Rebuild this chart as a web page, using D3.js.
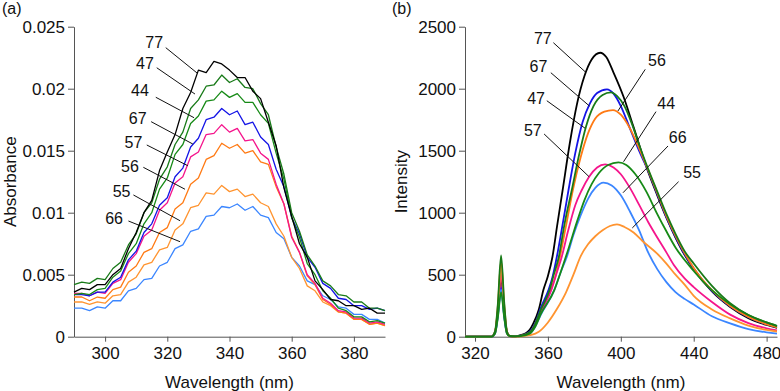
<!DOCTYPE html>
<html>
<head>
<meta charset="utf8">
<script src="https://d3js.org/d3.v7.min.js"></script>
<style>
  body { margin: 0; background: #fff; }
  text { font-family: "Liberation Sans", Arial, Helvetica, sans-serif; fill: #111; }
  .axis path, .axis line { stroke: #555; }
  .axis text { font-size: 17px; }
</style>
</head>
<body>
<svg id="chart" width="780" height="391"></svg>
<script>
// ---- panel (a): absorbance, sampled every 2.5 nm ----
var wlA = [290, 292.5, 295, 297.5, 300, 302.5, 305, 307.5, 310, 312.5, 315, 317.5, 320, 322.5, 325, 327.5,
  330, 332.5, 335, 337.5, 340, 342.5, 345, 347.5, 350, 352.5, 355, 357.5, 360, 362.5, 365, 367.5,
  370, 372.5, 375, 377.5, 380, 382.5, 385, 387.5, 390];

var abs77 = [.0036, .0039, .0038, .0042, .0042, .0050, .0055, .0071, .0084, .0100, .0110, .0134, .0149, .0163, .0184, .0197,
  .0215, .0213, .0222, .0220, .0215, .0209, .0209, .0198, .0192, .0173, .0154, .0120, .0097, .0075, .0064, .0045,
  .0038, .0030, .0029, .0025, .0025, .0022, .0023, .0019, .0019];
var abs47 = [.0042, .0044, .0043, .0047, .0046, .0055, .0060, .0074, .0083, .0100, .0108, .0127, .0137, .0155, .0165, .0184,
  .0191, .0202, .0203, .0211, .0205, .0208, .0201, .0200, .0188, .0179, .0153, .0131, .0100, .0085, .0066, .0057,
  .0045, .0041, .0034, .0033, .0028, .0028, .0023, .0023, .0021];
var abs44 = [.0034, .0035, .0034, .0038, .0039, .0048, .0053, .0067, .0075, .0091, .0100, .0119, .0128, .0147, .0155, .0172,
  .0178, .0190, .0191, .0198, .0193, .0196, .0189, .0189, .0179, .0172, .0148, .0127, .0096, .0080, .0059, .0050,
  .0037, .0031, .0023, .0021, .0016, .0016, .0012, .0013, .0011];
var abs67 = [.0034, .0034, .0033, .0036, .0036, .0044, .0048, .0062, .0069, .0084, .0091, .0106, .0112, .0129, .0136, .0153,
  .0160, .0175, .0177, .0184, .0179, .0182, .0171, .0173, .0161, .0155, .0135, .0121, .0096, .0083, .0064, .0056,
  .0043, .0039, .0031, .0030, .0025, .0025, .0022, .0023, .0021];
var abs57 = [.0035, .0035, .0033, .0036, .0035, .0043, .0046, .0060, .0067, .0081, .0086, .0102, .0108, .0124, .0129, .0145,
  .0149, .0163, .0164, .0171, .0165, .0168, .0158, .0159, .0148, .0143, .0123, .0107, .0080, .0068, .0050, .0043,
  .0031, .0027, .0021, .0020, .0015, .0015, .0011, .0012, .0010];
var abs56 = [.0032, .0032, .0029, .0032, .0031, .0038, .0040, .0052, .0057, .0068, .0071, .0084, .0088, .0103, .0108, .0123,
  .0128, .0143, .0146, .0156, .0152, .0155, .0148, .0150, .0141, .0139, .0121, .0107, .0081, .0068, .0049, .0042,
  .0030, .0026, .0020, .0019, .0014, .0014, .0010, .0011, .0009];
var abs55 = [.0028, .0028, .0026, .0028, .0027, .0033, .0034, .0044, .0048, .0058, .0060, .0070, .0072, .0086, .0091, .0104,
  .0106, .0116, .0115, .0122, .0117, .0119, .0113, .0115, .0108, .0105, .0091, .0081, .0064, .0055, .0041, .0037,
  .0028, .0025, .0020, .0019, .0014, .0014, .0010, .0011, .0009];
var abs66 = [.0023, .0023, .0021, .0024, .0023, .0029, .0029, .0037, .0039, .0046, .0047, .0057, .0060, .0071, .0074, .0085,
  .0087, .0097, .0098, .0105, .0104, .0107, .0102, .0105, .0098, .0096, .0084, .0079, .0064, .0057, .0045, .0042,
  .0033, .0030, .0024, .0023, .0018, .0018, .0014, .0014, .0011];

// ---- panel (b): emission, [wavelength, intensity] ----
var emis77 = [[314.5, 0], [329, 0], [331, 40], [332.5, 200], [334.3, 470], [336, 200], [337.5, 40], [339, 5], [342, 2],
  [345, 12], [348, 30], [350, 55], [352, 107], [355, 220], [357.5, 376], [360, 490], [362.5, 645], [365, 890], [368, 1175],
  [372, 1560], [376, 1880], [380, 2100], [384, 2235], [388.7, 2290], [392, 2255], [396, 2130], [401.5, 1935], [407, 1690],
  [414, 1371], [420, 1140], [425, 960], [430, 800], [435, 660], [440, 545], [450, 365], [460, 240], [470, 150], [480, 95], [485.7, 72]];
var emis67 = [[314.5, 0], [329, 0], [331, 30], [332.5, 170], [334.3, 400], [336, 170], [337.5, 30], [339, 5], [342, 2],
  [345, 8], [350, 40], [353, 107], [356, 230], [360.3, 376], [362.5, 480], [364.9, 645], [368, 900], [371.3, 1183],
  [375, 1480], [379, 1730], [383, 1880], [387, 1965], [392.4, 1995], [396, 1960], [400, 1860], [405, 1680], [410, 1500],
  [414, 1371], [420, 1150], [425, 965], [430, 805], [435, 665], [440, 550], [450, 370], [460, 245], [470, 158], [480, 100], [485.7, 76]];
var emis47 = [[314.5, 0], [329, 0], [331, 45], [332.5, 260], [334.3, 655], [336, 280], [337.5, 45], [339, 6], [342, 2],
  [345, 8], [350, 36], [353, 100], [356, 215], [360.9, 376], [363, 490], [366, 645], [369, 900], [373.1, 1183],
  [377, 1460], [381, 1700], [385, 1860], [390, 1950], [394.6, 1971], [398, 1940], [402, 1860], [406, 1720], [410, 1550],
  [414, 1390], [420, 1170], [425, 990], [430, 830], [435, 690], [440, 590], [450, 410], [460, 270], [470, 175], [480, 115], [485.7, 85]];
var emis56 = [[314.5, 0], [329, 0], [331, 40], [332.5, 240], [334.3, 610], [336, 260], [337.5, 40], [339, 6], [342, 2],
  [345, 7], [350, 32], [353, 95], [356, 200], [361.5, 376], [364, 480], [366.6, 645], [370, 900], [373.7, 1183],
  [378, 1450], [382, 1640], [386, 1760], [391, 1815], [395.7, 1828], [400, 1790], [405, 1680], [410, 1520],
  [414, 1380], [420, 1160], [425, 975], [430, 815], [435, 675], [440, 555], [450, 375], [460, 248], [470, 160], [480, 100], [485.7, 76]];
var emis57 = [[314.5, 0], [329, 0], [331, 35], [332.5, 200], [334.3, 510], [336, 215], [337.5, 35], [339, 5], [342, 2],
  [345, 7], [350, 32], [353, 92], [356, 195], [361.9, 376], [364.5, 500], [367.6, 645], [371, 850], [375, 1060],
  [378.6, 1183], [382.6, 1290], [387, 1365], [391.4, 1390], [396, 1365], [400, 1310], [405, 1200], [410, 1065],
  [415, 925], [420, 800], [425, 680], [429, 580], [435, 470], [440, 400], [450, 280], [460, 178], [470, 110], [480, 68], [485.7, 50]];
var emis44 = [[314.5, 0], [329, 0], [331, 25], [332.5, 150], [334.3, 360], [336, 155], [337.5, 25], [339, 4], [342, 2],
  [345, 5], [350, 25], [353, 80], [356, 180], [363.5, 376], [367, 520], [371.5, 720], [376, 930], [380, 1100],
  [384, 1230], [388, 1320], [393, 1385], [398.7, 1406], [403, 1385], [408, 1310], [414, 1170], [419.8, 995],
  [425, 850], [430, 720], [438, 565], [440, 530], [450, 375], [460, 262], [470, 175], [480, 115], [485.7, 88]];
var emis66 = [[314.5, 0], [329, 0], [331, 28], [332.5, 160], [334.3, 380], [336, 165], [337.5, 28], [339, 4], [342, 2],
  [345, 5], [350, 25], [353, 80], [356, 175], [363.5, 376], [367, 520], [370.4, 645], [374, 820], [378, 980],
  [382.3, 1120], [386, 1200], [390.5, 1242], [395, 1220], [400, 1140], [405, 1010], [410, 860], [415, 680],
  [420, 545], [425, 440], [430, 360], [435, 305], [440, 260], [450, 165], [460, 108], [470, 62], [480, 35], [485.7, 25]];
var emis55 = [[314.5, 0], [329, 0], [331, 35], [332.5, 220], [334.3, 560], [336, 235], [337.5, 35], [339, 5], [342, 1],
  [345, 3], [350, 12], [355, 40], [360, 115], [365, 225], [370, 360], [374, 500], [378, 650], [382, 745],
  [386, 810], [390, 858], [394, 893], [397.9, 906], [402, 885], [407, 840], [412, 770], [419.8, 672],
  [425, 590], [430, 500], [435, 420], [440, 330], [450, 220], [460, 148], [470, 90], [480, 55], [485.7, 42]];

var seriesA = [
  { key: '66', values: abs66, color: '#3b86ff' },
  { key: '55', values: abs55, color: '#ff9430' },
  { key: '56', values: abs56, color: '#ff7a14' },
  { key: '57', values: abs57, color: '#f5158c' },
  { key: '67', values: abs67, color: '#1414e6' },
  { key: '44', values: abs44, color: '#168a16' },
  { key: '47', values: abs47, color: '#187a18' },
  { key: '77', values: abs77, color: '#000000' }
];
var seriesB = [
  { key: '77', values: emis77, color: '#000000' },
  { key: '67', values: emis67, color: '#1414e6' },
  { key: '56', values: emis56, color: '#ff7a14' },
  { key: '57', values: emis57, color: '#f5158c' },
  { key: '66', values: emis66, color: '#3b86ff' },
  { key: '55', values: emis55, color: '#ff9430' },
  { key: '44', values: emis44, color: '#168a16' },
  { key: '47', values: emis47, color: '#187a18' }
];

// callouts: label, text centre, leader start, leader end (data units)
var calloutsA = [
  ['77', 315.8, .02371, 319.5, .02331, 329.7, .02124],
  ['47', 312.8, .02205, 316.6, .02169, 328.9, .01957],
  ['44', 311.2, .01984, 316.3, .01931, 328.6, .01766],
  ['67', 310.5, .01761, 314.8, .01734, 328.2, .01554],
  ['57', 309.1, .01565, 313.4, .01546, 326.6, .01379],
  ['56', 308.0, .01377, 312.3, .01366, 325.7, .01189],
  ['55', 305.3, .01169, 309.1, .01143, 324.1, .00935],
  ['66', 302.9, .00955, 307.5, .00933, 324.1, .00766]
];
var calloutsB = [
  ['77', 357.2, 2406, 363.0, 2371, 380.4, 2137],
  ['67', 354.8, 2177, 361.6, 2129, 382.8, 1860],
  ['47', 353.5, 1923, 359.4, 1903, 380.4, 1681],
  ['57', 351.7, 1667, 357.9, 1635, 382.6, 1290],
  ['56', 419.8, 2226, 413.4, 2156, 398.4, 1820],
  ['44', 424.9, 1882, 419.3, 1815, 401.5, 1411],
  ['66', 431.2, 1605, 425.9, 1538, 401.2, 1161],
  ['55', 439.1, 1326, 431.7, 1250, 406.3, 877]
];

var xTicksA = [300, 320, 340, 360, 380];
var yTicksA = [0, 0.005, 0.01, 0.015, 0.02, 0.025];
var yLabelsA = ['0', '0.005', '0.01', '0.015', '0.02', '0.025'];
var xTicksB = [320, 360, 400, 440, 480];
var yTicksB = [0, 500, 1000, 1500, 2000, 2500];

var svg = d3.select('#chart');
var plotTop = 26.7, plotBottom = 336.7;

function callouts(g, list, x, y) {
  list.forEach(function (c) {
    g.append('line')
      .attr('x1', x(c[3])).attr('y1', y(c[4]))
      .attr('x2', x(c[5])).attr('y2', y(c[6]))
      .attr('stroke', '#111').attr('stroke-width', 1);
    g.append('text')
      .attr('x', x(c[1])).attr('y', y(c[2]))
      .attr('dy', '0.35em')
      .attr('text-anchor', 'middle')
      .attr('font-size', 16)
      .text(c[0]);
  });
}

// ---------- panel (a) ----------
var xa = d3.scaleLinear().domain([290, 390]).range([74, 385]);
var ya = d3.scaleLinear().domain([0, 0.025]).range([plotBottom, plotTop]);

svg.append('g')
  .attr('class', 'axis')
  .attr('transform', 'translate(0,' + plotBottom + ')')
  .call(d3.axisBottom(xa).tickValues(xTicksA).tickSize(5).tickSizeOuter(0).tickPadding(5));
svg.append('g')
  .attr('class', 'axis')
  .attr('transform', 'translate(74,0)')
  .call(d3.axisLeft(ya).tickValues(yTicksA).tickFormat((d, i) => yLabelsA[i]).tickSize(6).tickSizeOuter(0).tickPadding(3));

var lineA = d3.line().x((d, i) => xa(wlA[i])).y((d) => ya(d));
svg.append('g').selectAll('path')
  .data(seriesA)
  .enter().append('path')
  .attr('d', (s) => lineA(s.values))
  .attr('fill', 'none')
  .attr('stroke', (s) => s.color)
  .attr('stroke-width', 1.3)
  .attr('stroke-linejoin', 'round');

callouts(svg.append('g'), calloutsA, xa, ya);

svg.append('text').attr('x', 2).attr('y', 14).attr('font-size', 16).text('(a)');
svg.append('text')
  .attr('transform', 'translate(16,' + (plotTop + plotBottom) / 2 + ') rotate(-90)')
  .attr('text-anchor', 'middle').attr('font-size', 17).text('Absorbance');
svg.append('text')
  .attr('x', (74 + 385) / 2).attr('y', 388)
  .attr('text-anchor', 'middle').attr('font-size', 17).text('Wavelength (nm)');

// ---------- panel (b) ----------
var xb = d3.scaleLinear().domain([314.5, 485.7]).range([465, 777]);
var yb = d3.scaleLinear().domain([0, 2500]).range([plotBottom, plotTop]);

svg.append('g')
  .attr('class', 'axis')
  .attr('transform', 'translate(0,' + plotBottom + ')')
  .call(d3.axisBottom(xb).tickValues(xTicksB).tickSize(5).tickSizeOuter(0).tickPadding(5));
svg.append('g')
  .attr('class', 'axis')
  .attr('transform', 'translate(465,0)')
  .call(d3.axisLeft(yb).tickValues(yTicksB).tickFormat(d3.format('d')).tickSize(6).tickSizeOuter(0).tickPadding(3));

var lineB = d3.line().curve(d3.curveMonotoneX).x((d) => xb(d[0])).y((d) => yb(d[1]));
svg.append('g').selectAll('path')
  .data(seriesB)
  .enter().append('path')
  .attr('d', (s) => lineB(s.values))
  .attr('fill', 'none')
  .attr('stroke', (s) => s.color)
  .attr('stroke-width', 1.8);

callouts(svg.append('g'), calloutsB, xb, yb);

svg.append('text').attr('x', 392).attr('y', 14).attr('font-size', 16).text('(b)');
svg.append('text')
  .attr('transform', 'translate(407,' + (plotTop + plotBottom) / 2 + ') rotate(-90)')
  .attr('text-anchor', 'middle').attr('font-size', 17).text('Intensity');
svg.append('text')
  .attr('x', (465 + 777) / 2).attr('y', 388)
  .attr('text-anchor', 'middle').attr('font-size', 17).text('Wavelength (nm)');
</script>
</body>
</html>
